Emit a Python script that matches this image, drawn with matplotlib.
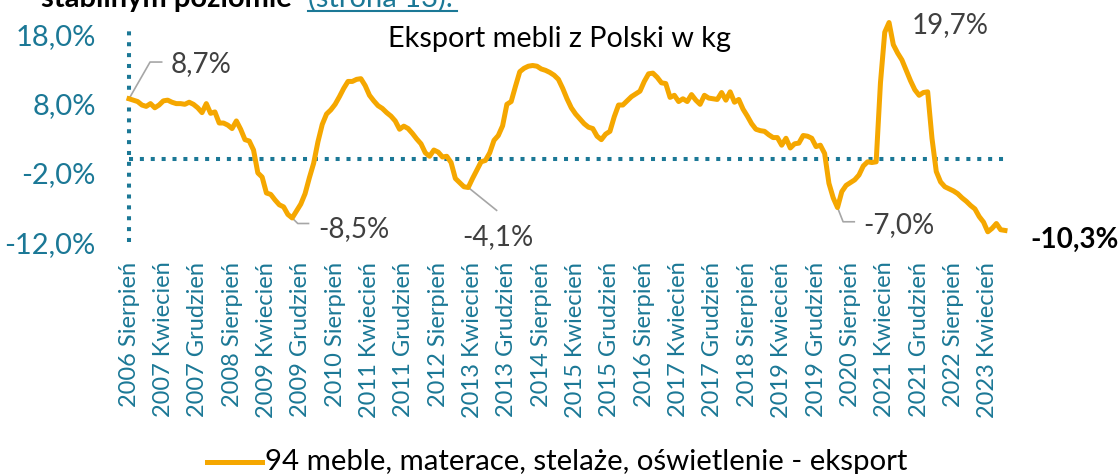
import matplotlib
matplotlib.use('Agg')
import matplotlib.pyplot as plt
from matplotlib.lines import Line2D
import numpy as np

plt.rcParams['font.family'] = ['Lato', 'DejaVu Sans']

# monthly values, 2006 Sierpień .. 2023 Sierpień (%)
values = [
    8.7, 8.5, 8.3, 7.8, 7.6, 8.0, 7.4, 7.8, 8.4, 8.5,
    8.2, 8.0, 8.0, 7.9, 8.2, 7.9, 7.4, 6.7, 8.0, 6.6,
    6.8, 5.2, 5.2, 4.9, 4.4, 5.5, 4.3, 2.8, 2.6, 1.3,
    -2.0, -2.6, -4.9, -5.1, -5.9, -6.6, -6.9, -8.0, -8.5, -7.5,
    -6.5, -5.0, -2.7, -0.6, 2.5, 5.0, 6.5, 7.1, 7.9, 9.0,
    10.2, 11.2, 11.2, 11.5, 11.6, 10.6, 9.2, 8.4, 7.7, 7.3,
    6.7, 6.2, 5.5, 4.3, 4.75, 4.4, 3.7, 2.9, 2.2, 0.9,
    0.4, 1.3, 1.0, 0.3, 0.4, -0.5, -2.8, -3.4, -4.0, -4.1,
    -2.8, -1.6, -0.4, -0.2, 0.9, 2.7, 3.4, 4.8, 7.9, 8.3,
    10.5, 12.6, 13.1, 13.4, 13.5, 13.4, 13.0, 12.8, 12.5, 12.1,
    11.5, 10.2, 8.7, 7.4, 6.5, 5.8, 5.1, 4.6, 4.4, 3.3,
    2.8, 3.6, 4.0, 6.1, 7.8, 7.8, 8.4, 9.0, 9.4, 9.8,
    11.2, 12.3, 12.4, 11.8, 11.0, 10.9, 8.9, 9.2, 8.3, 8.7,
    8.3, 9.3, 8.5, 7.9, 9.2, 8.8, 8.7, 8.6, 9.6, 8.5,
    9.7, 8.2, 8.6, 7.2, 6.2, 5.1, 4.3, 4.1, 4.0, 3.5,
    3.1, 3.1, 2.0, 3.0, 1.6, 2.2, 2.3, 3.4, 3.3, 3.0,
    1.8, 2.0, 0.8, -3.5, -5.6, -7.0, -4.7, -3.8, -3.4, -3.0,
    -2.3, -1.0, -0.4, -0.5, -0.4, 11.0, 18.3, 19.7, 16.5, 15.3,
    14.3, 12.8, 11.3, 10.0, 9.2, 9.6, 9.7, 3.0, -1.8, -3.3,
    -4.0, -4.3, -4.6, -5.0, -5.6, -6.1, -6.7, -7.2, -8.3, -9.1,
    -10.5, -10.0, -9.3, -10.2, -10.3,
]

tick_labels = [
    '2006 Sierpień', '2007 Kwiecień', '2007 Grudzień', '2008 Sierpień',
    '2009 Kwiecień', '2009 Grudzień', '2010 Sierpień', '2011 Kwiecień',
    '2011 Grudzień', '2012 Sierpień', '2013 Kwiecień', '2013 Grudzień',
    '2014 Sierpień', '2015 Kwiecień', '2015 Grudzień', '2016 Sierpień',
    '2017 Kwiecień', '2017 Grudzień', '2018 Sierpień', '2019 Kwiecień',
    '2019 Grudzień', '2020 Sierpień', '2021 Kwiecień', '2021 Grudzień',
    '2022 Sierpień', '2023 Kwiecień',
]
yticks = [-12, -2, 8, 18]

# labelled points: (month index, value, text)
callouts = [(0, 8.7, '8,7%'), (38, -8.5, '-8,5%'), (79, -4.1, '-4,1%'),
            (165, -7.0, '-7,0%'), (177, 19.7, '19,7%')]
last_label = '-10,3%'

ORANGE = '#F5A700'
TEAL = '#1B7896'
GREY_TXT = '#404040'
GREY_LN = '#A6A6A6'
DOTS = (0, (1, 1.7))

fig = plt.figure(figsize=(11.2, 4.74), dpi=100)
ax = fig.add_axes([0.1152, 0.489, 0.7821, 0.4576])

x = np.arange(len(values))
ax.axhline(0, color=TEAL, lw=2.9, ls=DOTS, dash_capstyle='butt', zorder=1)
ax.axvline(0, color=TEAL, lw=2.9, ls=DOTS, dash_capstyle='butt', zorder=1, clip_on=False)
ax.plot(x, values, color=ORANGE, lw=3.6, solid_joinstyle='round', clip_on=False, zorder=3)
ax.set_xlim(0, len(values) - 1)
ax.set_ylim(-12, 19.3)

for s in ['top', 'right', 'bottom', 'left']:
    ax.spines[s].set_visible(False)

ax.set_yticks(yticks)
ax.set_yticklabels([f'{v:.1f}%'.replace('.', ',') for v in yticks])
ax.set_xticks(x[::8][:len(tick_labels)])
ax.set_xticklabels(tick_labels, rotation=90)
ax.tick_params(axis='y', length=0, pad=24, labelsize=21, labelcolor=TEAL)
ax.tick_params(axis='x', length=0, pad=14, labelsize=17, labelcolor=TEAL)

# callout labels and leader lines
ax.plot([0, 4.9, 7.6], [8.7, 14.0, 14.0], color=GREY_LN, lw=1.2, clip_on=False)
ax.text(9.6, 12.5, callouts[0][2], color=GREY_TXT, fontsize=20, va='baseline')
ax.plot([38, 39.3, 41.8], [-8.5, -9.3, -9.3], color=GREY_LN, lw=1.2, clip_on=False)
ax.text(44.1, -11.25, callouts[1][2], color=GREY_TXT, fontsize=20, va='baseline')
ax.plot([79, 85.6], [-4.1, -7.4], color=GREY_LN, lw=1.2, clip_on=False)
ax.text(77.5, -12.4, callouts[2][2], color=GREY_TXT, fontsize=20, va='baseline', clip_on=False)
ax.plot([165, 166.3, 168.9], [-7.0, -9.05, -9.05], color=GREY_LN, lw=1.2, clip_on=False)
ax.text(171.1, -10.7, callouts[3][2], color=GREY_TXT, fontsize=20, va='baseline')
ax.text(182.3, 18.2, callouts[4][2], color=GREY_TXT, fontsize=20, va='baseline', clip_on=False)
ax.text(210, -12.8, last_label, color='black', fontsize=20, fontweight='bold',
        va='baseline', clip_on=False)

# chart title
fig.text(559 / 1120, 1 - 47 / 474, 'Eksport mebli z Polski w kg', ha='center',
         va='baseline', fontsize=20.8, color='black')

# legend
fig.add_artist(Line2D([207 / 1120, 262 / 1120], [1 - 462 / 474] * 2, color=ORANGE, lw=3.6))
fig.text(265 / 1120, 1 - 470 / 474, '94 meble, materace, stelaże, oświetlenie - eksport',
         va='baseline', fontsize=21.2, color='black')

# cut-off header line of the surrounding page
fig.text(41 / 1120, 1 - 7 / 474, 'stabilnym poziomie', va='baseline', fontsize=21,
         fontweight='bold', color='black')
fig.text(308 / 1120, 1 - 7 / 474, '(strona 13).', va='baseline', fontsize=21, color=TEAL)
fig.add_artist(Line2D([308 / 1120, 457 / 1120], [1 - 11 / 474] * 2, color=TEAL, lw=1.5))

fig.savefig('out.png', dpi=100)
